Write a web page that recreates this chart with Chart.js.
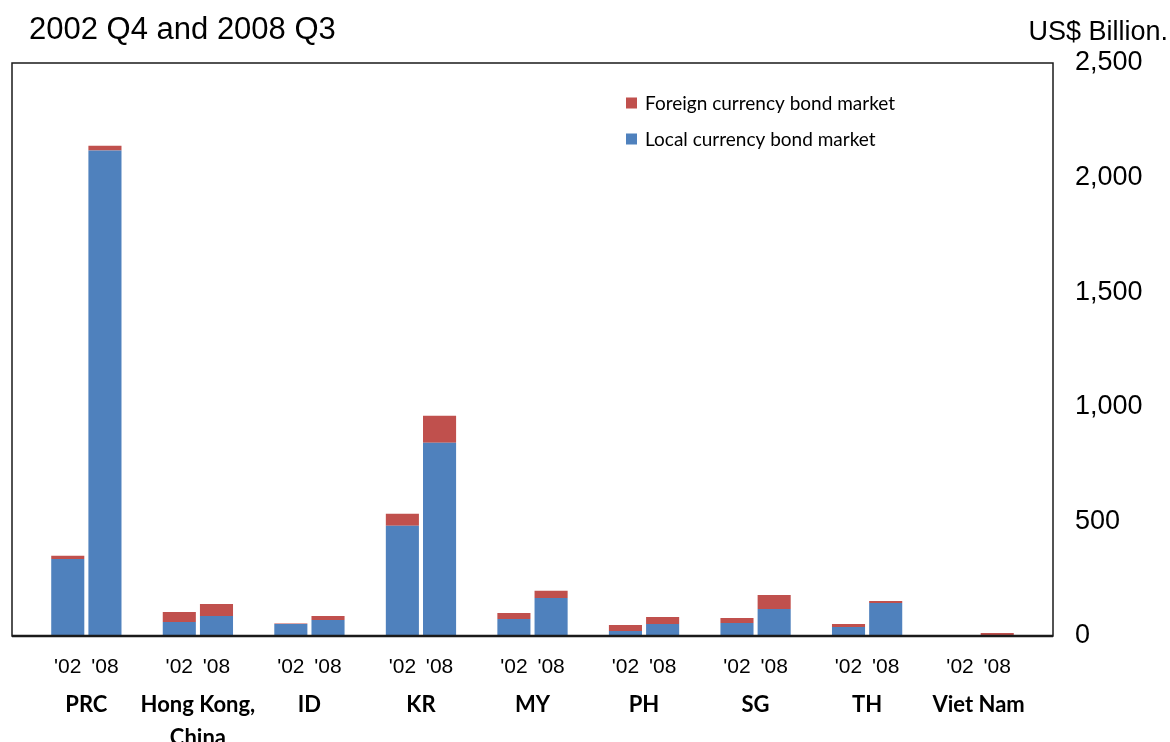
<!DOCTYPE html>
<html>
<head>
<meta charset="utf-8">
<script src="https://cdn.jsdelivr.net/npm/chart.js@4.4.0/dist/chart.umd.min.js"></script>
<style>
  html, body { margin: 0; padding: 0; background: #fff; }
  #wrap { width: 1170px; height: 742px; }
</style>
</head>
<body>
<div id="wrap"><canvas id="chart"></canvas></div>
<script>
// Data (US$ billion)
const countries = ['PRC', ['Hong Kong,', 'China'], 'ID', 'KR', 'MY', 'PH', 'SG', 'TH', 'Viet Nam'];
const yearLabels = ["'02", "'08"];
const local02 = [336, 61, 52, 481, 74, 22, 57, 39, 1];
const foreign02 = [14, 44, 2, 52, 26, 26, 22, 13, 0];
const local08 = [2118, 87, 70, 843, 166, 52, 118, 144, 4];
const foreign08 = [21, 53, 17, 118, 31, 31, 61, 9, 9];
const yTicks = [0, 500, 1000, 1500, 2000, 2500];

const blue = '#4F81BD';
const red = '#C0504D';

// each country takes three slots: blank, '02, '08 ; one more blank at the end
const slotLabels = [];
const localData = [];
const foreignData = [];
countries.forEach((c, i) => {
    slotLabels.push('', yearLabels[0], yearLabels[1]);
    localData.push(null, local02[i], local08[i]);
    foreignData.push(null, foreign02[i], foreign08[i]);
});
slotLabels.push('');
localData.push(null);
foreignData.push(null);
const nSlots = slotLabels.length;
// country name sits between its '02 and '08 bars
const countryPos = countries.map((c, i) => 3 * i + 2);

// title, unit, frame and legend
const extras = {
    id: 'extras',
    afterDatasetsDraw(chart) {
        const { ctx, chartArea: a } = chart;
        ctx.save();
        ctx.strokeStyle = '#1a1a1a';
        ctx.lineWidth = 1.5;
        ctx.strokeRect(a.left, a.top, a.right - a.left, a.bottom - a.top);
        ctx.lineWidth = 2.5;
        ctx.beginPath();
        ctx.moveTo(a.left, a.bottom);
        ctx.lineTo(a.right, a.bottom);
        ctx.stroke();
        ctx.restore();
    },
    afterDraw(chart) {
        const ctx = chart.ctx;
        ctx.save();
        ctx.fillStyle = '#000';
        ctx.textBaseline = 'alphabetic';
        ctx.font = '31px "Liberation Sans"';
        ctx.textAlign = 'left';
        ctx.fillText('2002 Q4 and 2008 Q3', 29, 39);
        ctx.font = '27px "Liberation Sans"';
        ctx.textAlign = 'right';
        ctx.fillText('US$ Billion.', 1168, 40);

        // legend, top item = top of stack
        const items = chart.data.datasets.slice().reverse();
        ctx.font = '19px Lato';
        ctx.textAlign = 'left';
        ctx.textBaseline = 'middle';
        items.forEach((ds, i) => {
            const y = 103 + i * 36;
            ctx.fillStyle = ds.backgroundColor;
            ctx.fillRect(626, y - 5.5, 11, 11);
            ctx.fillStyle = '#000';
            ctx.fillText(ds.label, 645, y + 1);
        });
        ctx.restore();
    }
};

new Chart(document.getElementById('chart'), {
    type: 'bar',
    data: {
        labels: slotLabels,
        datasets: [
            {
                label: 'Local currency bond market',
                data: localData,
                backgroundColor: blue,
                borderWidth: 0,
                categoryPercentage: 1,
                barPercentage: 0.89
            },
            {
                label: 'Foreign currency bond market',
                data: foreignData,
                backgroundColor: red,
                borderWidth: 0,
                categoryPercentage: 1,
                barPercentage: 0.89
            }
        ]
    },
    options: {
        responsive: true,
        maintainAspectRatio: false,
        animation: false,
        layout: {
            padding: { left: 12, top: 63, right: 0, bottom: 0 }
        },
        plugins: {
            legend: { display: false },
            tooltip: { enabled: false }
        },
        scales: {
            x: {
                stacked: true,
                weight: 0,
                grid: { display: false, drawTicks: false },
                border: { display: false },
                ticks: {
                    autoSkip: false,
                    maxRotation: 0,
                    padding: 19,
                    color: '#000',
                    font: { family: 'Liberation Sans', size: 21 }
                },
                afterFit: (s) => { s.height = 43; }
            },
            x2: {
                type: 'linear',
                position: 'bottom',
                offset: false,
                weight: 1,
                min: 0,
                max: nSlots,
                grid: { display: false, drawTicks: false, offset: false },
                border: { display: false },
                afterBuildTicks: (s) => { s.ticks = countryPos.map(v => ({ value: v })); },
                ticks: {
                    autoSkip: false,
                    maxRotation: 0,
                    padding: 9,
                    color: '#000',
                    font: { family: 'Lato', size: 22, weight: 'bold', lineHeight: 1.5 },
                    callback: (v, i) => countries[i]
                },
                afterFit: (s) => { s.height = 63; }
            },
            y: {
                stacked: true,
                position: 'right',
                min: 0,
                max: 2500,
                grid: { display: false, drawTicks: false },
                border: { display: false },
                afterBuildTicks: (s) => { s.ticks = yTicks.map(v => ({ value: v })); },
                ticks: {
                    padding: 22,
                    color: '#000',
                    font: { family: 'Liberation Sans', size: 27 },
                    callback: (v) => v.toLocaleString('en-US')
                },
                afterFit: (s) => { s.width = 117; }
            }
        }
    },
    plugins: [extras]
});
</script>
</body>
</html>
